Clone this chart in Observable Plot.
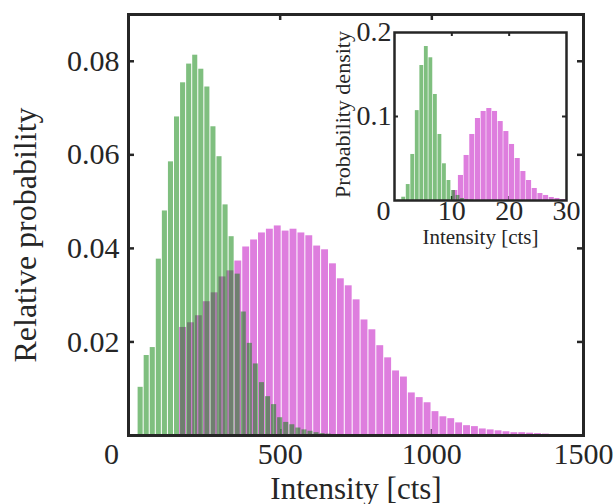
<!DOCTYPE html>
<html><head><meta charset="utf-8">
<script src="https://cdn.jsdelivr.net/npm/d3@7"></script>
<script src="https://cdn.jsdelivr.net/npm/@observablehq/plot@0.6"></script>
<style>
html,body{margin:0;padding:0;background:#fff;}
#chart{position:relative;width:616px;height:504px;}
#inset{position:absolute;left:320px;top:20px;}
</style>
</head><body><div id="chart"></div><div id="inset"></div>
<script>
// ---------- main histogram data ----------
const mainGreenBin = 20;
const mainGreenCenters = [40,60,80,100,120,140,160,180,200,220,240,260,280,300,320,340,360,380,400,420,440,460,480,500,520,540,560,580,600,620,640,660,680,700,720,740];
const mainGreenValues = [0.0103,0.0171,0.0188,0.0377,0.0480,0.0585,0.0681,0.0754,0.0794,0.0813,0.0783,0.0745,0.0660,0.0596,0.0493,0.0425,0.0345,0.0264,0.0197,0.0153,0.0113,0.0083,0.0066,0.0038,0.0028,0.0023,0.0016,0.0012,0.0009,0.0006,0.0004,0.0003,0.0002,0.0002,0.0001,0.0001];

const mainMagentaBin = 26;
const mainMagentaCenters = [180,206,232,258,284,310,336,362,388,414,440,466,492,518,544,570,596,622,648,674,700,726,752,778,804,830,856,882,908,934,960,986,1012,1038,1064,1090,1116,1142,1168,1194,1220,1246,1272,1298,1324,1350,1376,1402,1428,1454,1480];
const mainMagentaValues = [0.0231,0.0241,0.0256,0.0286,0.0305,0.0339,0.0352,0.0373,0.0403,0.0418,0.0433,0.0441,0.0448,0.0437,0.0441,0.0433,0.0427,0.0405,0.0397,0.0367,0.0335,0.0320,0.0290,0.0247,0.0226,0.0192,0.0166,0.0138,0.0125,0.0091,0.0081,0.0070,0.0051,0.0040,0.0036,0.0027,0.0021,0.0019,0.0014,0.0012,0.0010,0.0008,0.0006,0.0006,0.0005,0.0004,0.0003,0.0002,0.0002,0.0001,0.0001];

const mainXTicks = [500, 1000, 1500];
const mainYTicks = [0.02, 0.04, 0.06, 0.08];
const mainOriginLabel = "0";
const mainXLabel = "Intensity [cts]";
const mainYLabel = "Relative probability";

// ---------- inset histogram data ----------
const insetGreenBin = 0.79;
const insetGreenCenters = [0.81,1.60,2.39,3.18,3.97,4.76,5.55,6.34,7.13,7.92,8.71,9.50,10.29,11.08,11.87,12.66,13.45];
const insetGreenValues = [0.0006,0.0039,0.0190,0.0548,0.1070,0.1607,0.1833,0.1699,0.1262,0.0786,0.0437,0.0238,0.0119,0.0060,0.0024,0.0010,0.0005];

const insetMagentaBin = 0.99;
const insetMagentaCenters = [10.60,11.59,12.58,13.57,14.56,15.55,16.54,17.53,18.52,19.51,20.50,21.49,22.48,23.47,24.46,25.45,26.44,27.43,28.42,29.41];
const insetMagentaValues = [0.0119,0.0298,0.0536,0.0786,0.0976,0.1060,0.1095,0.1060,0.0940,0.0821,0.0667,0.0500,0.0345,0.0238,0.0143,0.0083,0.0060,0.0036,0.0024,0.0012];

const insetXTicks = [10, 20, 30];
const insetXTickMarks = [10, 20];
const insetYTicks = [0.1, 0.2];
const insetYTickMarks = [0.1];
const insetOriginLabel = "0";
const insetXLabel = "Intensity [cts]";
const insetYLabel = "Probability density";

// ---------- styling ----------
const font = "'Liberation Serif', 'Times New Roman', serif";
const ink = "#262626";
const greenFill = "rgb(0,128,0)";
const magentaFill = "#de7ede";

const toBars = (centers, values, bin) => centers.map((c, i) => ({x1: c - bin / 2, x2: c + bin / 2, y: values[i]}));

// ---------- main plot ----------
const W = 616, H = 504, mL = 128, mR = 33, mT = 14, mB = 69;
const pw = W - mL - mR, ph = H - mT - mB;

const main = Plot.plot({
  width: W, height: H,
  marginLeft: mL, marginRight: mR, marginTop: mT, marginBottom: mB,
  x: {domain: [0, 1500], label: null},
  y: {domain: [0, 0.09], label: null},
  style: {fontFamily: font, fontSize: "30px", color: ink, background: "transparent"},
  marks: [
    Plot.tickX(mainXTicks, {x: d => d, insetTop: ph - 6, stroke: ink, strokeWidth: 2.5}),
    Plot.rectY(toBars(mainMagentaCenters, mainMagentaValues, mainMagentaBin), {x1: "x1", x2: "x2", y: "y", fill: magentaFill, insetLeft: 0.5, insetRight: 0.5}),
    Plot.rectY(toBars(mainGreenCenters, mainGreenValues, mainGreenBin), {x1: "x1", x2: "x2", y: "y", fill: greenFill, fillOpacity: 0.5, insetLeft: 0.5, insetRight: 0.5}),
    Plot.tickX(mainXTicks, {x: d => d, insetBottom: ph - 6, stroke: ink, strokeWidth: 2.5}),
    Plot.tickY(mainYTicks, {y: d => d, insetRight: pw - 6, stroke: ink, strokeWidth: 2.5}),
    Plot.tickY(mainYTicks, {y: d => d, insetLeft: pw - 6, stroke: ink, strokeWidth: 2.5}),
    Plot.frame({stroke: ink, strokeWidth: 3}),
    Plot.axisX(mainXTicks, {tickSize: 0, tickPadding: 7, tickFormat: d => String(d), label: null, fill: ink}),
    Plot.axisY(mainYTicks, {tickSize: 0, tickPadding: 9, tickFormat: d => d.toFixed(2), label: null, fill: ink}),
    Plot.text([mainOriginLabel], {frameAnchor: "bottom-left", textAnchor: "middle", lineAnchor: "top", dx: -17, dy: 7, fill: ink}),
    Plot.text([mainXLabel], {frameAnchor: "bottom", textAnchor: "middle", dy: 63, fontSize: 31, fill: ink}),
    Plot.text([mainYLabel], {frameAnchor: "left", textAnchor: "middle", rotate: -90, dx: -103, dy: 10, fontSize: 32, fill: ink})
  ]
});
document.getElementById("chart").appendChild(main);

// ---------- inset plot ----------
const iW = 260, iH = 240, iL = 74, iR = 14, iT = 12, iB = 60;
const ipw = iW - iL - iR, iph = iH - iT - iB;

const inset = Plot.plot({
  width: iW, height: iH,
  marginLeft: iL, marginRight: iR, marginTop: iT, marginBottom: iB,
  x: {domain: [0, 30], label: null},
  y: {domain: [0, 0.2], label: null},
  style: {fontFamily: font, fontSize: "28px", color: ink, background: "transparent", overflow: "visible"},
  marks: [
    Plot.tickX(insetXTickMarks, {x: d => d, insetTop: iph - 4, stroke: ink, strokeWidth: 2}),
    Plot.rectY(toBars(insetMagentaCenters, insetMagentaValues, insetMagentaBin), {x1: "x1", x2: "x2", y: "y", fill: magentaFill, insetLeft: 0.3, insetRight: 0.3}),
    Plot.rectY(toBars(insetGreenCenters, insetGreenValues, insetGreenBin), {x1: "x1", x2: "x2", y: "y", fill: greenFill, fillOpacity: 0.5, insetLeft: 0.35, insetRight: 0.35}),
    Plot.tickX(insetXTickMarks, {x: d => d, insetBottom: iph - 4, stroke: ink, strokeWidth: 2}),
    Plot.tickY(insetYTickMarks, {y: d => d, insetRight: ipw - 4, stroke: ink, strokeWidth: 2}),
    Plot.tickY(insetYTickMarks, {y: d => d, insetLeft: ipw - 4, stroke: ink, strokeWidth: 2}),
    Plot.frame({stroke: ink, strokeWidth: 2.5}),
    Plot.axisX(insetXTicks, {tickSize: 0, tickPadding: 0, tickFormat: d => String(d), label: null, fill: ink}),
    Plot.axisY(insetYTicks, {tickSize: 0, tickPadding: 3, tickFormat: d => d.toFixed(1), label: null, fill: ink}),
    Plot.text([insetOriginLabel], {frameAnchor: "bottom-left", textAnchor: "middle", lineAnchor: "top", dx: -11, dy: 0, fill: ink}),
    Plot.text([insetXLabel], {frameAnchor: "bottom", textAnchor: "middle", dy: 43, fontSize: 21, fill: ink}),
    Plot.text([insetYLabel], {frameAnchor: "left", textAnchor: "middle", rotate: -90, dx: -52, dy: -2, fontSize: 22, fill: ink})
  ]
});
document.getElementById("inset").appendChild(inset);
</script>
</body></html>
